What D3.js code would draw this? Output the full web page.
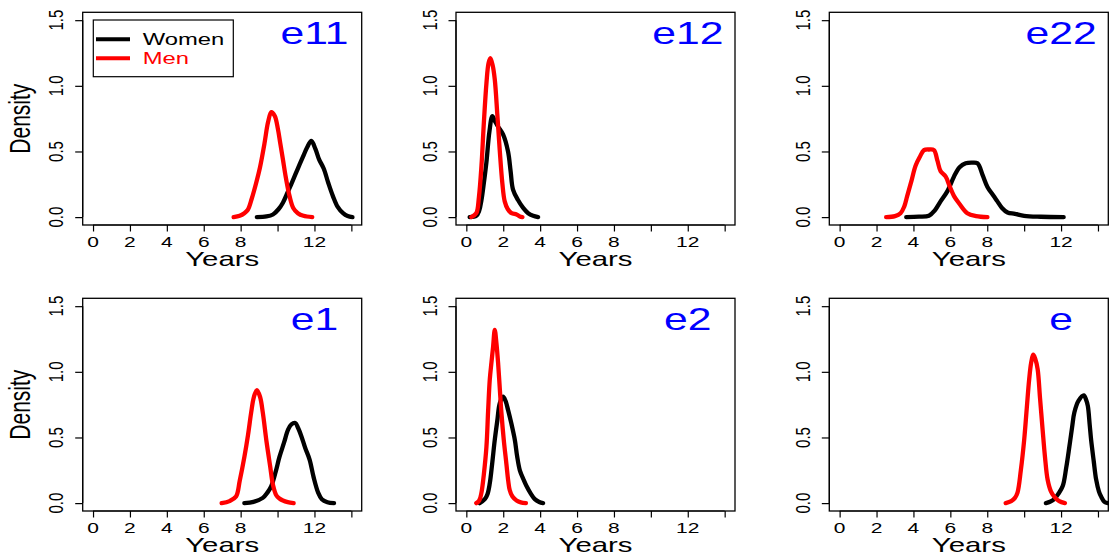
<!DOCTYPE html>
<html>
<head>
<meta charset="utf-8">
<script src="https://cdn.jsdelivr.net/npm/d3@7"></script>
<style>
  html, body { margin: 0; padding: 0; background: #fff; }
  svg { display: block; font-family: "Liberation Sans", Arial, sans-serif; }
</style>
</head>
<body>
<svg id="chart" width="1109" height="555"></svg>
<script>
// density curves, [years, density]
var e11Women = [[8.88,0],[9.4,0.005],[9.75,0.02],[10.05,0.06],[10.29,0.11],[10.55,0.19],[10.83,0.28],[11.1,0.37],[11.38,0.46],[11.6,0.53],[11.83,0.58],[12.05,0.52],[12.25,0.44],[12.5,0.37],[12.75,0.26],[13.0,0.16],[13.25,0.08],[13.55,0.03],[13.8,0.008],[14.06,0]];
var e11Men = [[7.62,0],[7.95,0.01],[8.2,0.03],[8.39,0.056],[8.6,0.14],[8.84,0.26],[9.05,0.38],[9.29,0.56],[9.48,0.72],[9.66,0.80],[9.85,0.77],[10.02,0.67],[10.15,0.56],[10.29,0.44],[10.45,0.3],[10.65,0.16],[10.85,0.07],[11.1,0.03],[11.4,0.01],[11.88,0]];

var e12Women = [[0.18,0],[0.54,0.01],[0.7,0.05],[0.82,0.13],[0.95,0.26],[1.09,0.42],[1.25,0.65],[1.41,0.77],[1.55,0.73],[1.72,0.69],[1.99,0.63],[2.26,0.50],[2.4,0.35],[2.53,0.21],[2.8,0.13],[3.08,0.07],[3.35,0.03],[3.62,0.01],[3.89,0]];
var e12Men = [[0.27,0],[0.54,0.03],[0.68,0.15],[0.82,0.39],[0.95,0.72],[1.09,1.02],[1.2,1.17],[1.30,1.21],[1.42,1.16],[1.54,1.05],[1.68,0.78],[1.81,0.51],[1.95,0.26],[2.08,0.12],[2.25,0.06],[2.45,0.03],[2.72,0.02],[2.9,0.005],[3.04,0]];

var e22Women = [[3.61,0],[4.3,0.003],[4.84,0.01],[5.15,0.05],[5.47,0.12],[5.85,0.2],[6.2,0.31],[6.5,0.38],[6.83,0.41],[7.15,0.415],[7.47,0.41],[7.75,0.32],[8.01,0.23],[8.3,0.17],[8.55,0.12],[8.8,0.07],[9.1,0.035],[9.5,0.025],[10.0,0.01],[10.9,0.003],[12.14,0]];
var e22Men = [[2.52,0],[3.0,0.008],[3.3,0.03],[3.5,0.08],[3.66,0.16],[3.9,0.28],[4.11,0.39],[4.35,0.46],[4.57,0.51],[4.85,0.515],[5.11,0.51],[5.3,0.43],[5.47,0.35],[5.74,0.31],[5.95,0.24],[6.2,0.16],[6.5,0.1],[6.92,0.03],[7.4,0.008],[8.01,0]];

var e1Women = [[8.2,0],[8.7,0.01],[9.2,0.04],[9.45,0.08],[9.66,0.13],[9.9,0.24],[10.1,0.35],[10.35,0.46],[10.57,0.56],[10.75,0.6],[10.96,0.61],[11.12,0.57],[11.29,0.51],[11.5,0.42],[11.74,0.33],[11.95,0.2],[12.2,0.08],[12.4,0.03],[12.7,0.007],[13.06,0]];
var e1Men = [[6.97,0],[7.4,0.015],[7.75,0.05],[7.95,0.17],[8.2,0.35],[8.4,0.52],[8.57,0.69],[8.72,0.81],[8.88,0.86],[9.05,0.81],[9.2,0.69],[9.4,0.47],[9.6,0.28],[9.75,0.14],[9.93,0.06],[10.1,0.035],[10.29,0.02],[10.55,0.008],[10.87,0]];

var e2Women = [[0.72,0],[1.0,0.03],[1.15,0.07],[1.27,0.15],[1.4,0.3],[1.54,0.48],[1.68,0.63],[1.81,0.76],[1.99,0.81],[2.12,0.78],[2.26,0.71],[2.45,0.6],[2.63,0.48],[2.75,0.36],[2.9,0.25],[3.1,0.18],[3.26,0.13],[3.5,0.07],[3.71,0.03],[3.95,0.008],[4.16,0]];
var e2Men = [[0.54,0],[0.7,0.02],[0.82,0.08],[0.95,0.22],[1.09,0.43],[1.18,0.7],[1.27,0.94],[1.36,1.07],[1.45,1.19],[1.54,1.32],[1.63,1.22],[1.72,1.07],[1.81,0.88],[1.90,0.69],[2.03,0.48],[2.17,0.30],[2.27,0.17],[2.35,0.10],[2.5,0.05],[2.72,0.02],[2.95,0.006],[3.23,0]];

var eWomen = [[11.18,0],[11.4,0.01],[11.63,0.03],[11.85,0.07],[12.09,0.13],[12.28,0.27],[12.45,0.43],[12.6,0.58],[12.72,0.69],[12.95,0.78],[13.23,0.82],[13.35,0.79],[13.45,0.74],[13.55,0.6],[13.63,0.48],[13.77,0.32],[13.9,0.18],[14.05,0.09],[14.17,0.05],[14.35,0.01],[14.54,0]];
var eMen = [[9.0,0],[9.3,0.015],[9.5,0.04],[9.64,0.08],[9.82,0.25],[10.0,0.48],[10.14,0.72],[10.27,0.94],[10.38,1.07],[10.49,1.13],[10.6,1.1],[10.73,1.02],[10.86,0.8],[11.0,0.56],[11.13,0.35],[11.27,0.18],[11.45,0.09],[11.63,0.05],[11.9,0.015],[12.21,0]];

var panelNames = ["e11", "e12", "e22", "e1", "e2", "e"];
var womenSeries = [e11Women, e12Women, e22Women, e1Women, e2Women, eWomen];
var menSeries = [e11Men, e12Men, e22Men, e1Men, e2Men, eMen];
var xTicks = [0, 2, 4, 6, 8, 10, 12, 14];
var xTickLabels = ["0", "2", "4", "6", "8", "", "12", ""];
var yTicks = [0, 0.5, 1.0, 1.5];
var legendLabels = ["Women", "Men"];
var seriesColors = ["#000000", "#ff0000"];

// the picture is stretched sideways, so text gets squashed the same way
var sx = 1.4;
var colLeft = [82.7, 456, 829.3],
    rowTop = [12.3, 298.3],
    boxW = 279,
    boxH = 212.7;

var svg = d3.select("#chart");

function stretchedText(g, x, y, str, size, anchor, rot, fill) {
    var t = g.append("text")
        .attr("transform", "translate(" + x + "," + y + ") scale(" + sx + ",1)" + (rot ? " rotate(" + rot + ")" : ""))
        .attr("font-size", size)
        .attr("text-anchor", anchor)
        .attr("fill", fill || "#000")
        .text(str);
    return t;
}

function drawPanel(i) {
    var col = i % 3, row = Math.floor(i / 3);
    var left = colLeft[col], top = rowTop[row];
    var g = svg.append("g");

    var x = d3.scaleLinear().domain([-0.56, 14.56]).range([left, left + boxW]);
    var y = d3.scaleLinear().domain([-0.06, 1.56]).range([top + boxH, top]);

    // box
    g.append("rect")
        .attr("x", left).attr("y", top)
        .attr("width", boxW).attr("height", boxH)
        .attr("fill", "none").attr("stroke", "#000").attr("stroke-width", 1.3);

    // x axis
    var xa = g.append("g").attr("transform", "translate(0," + (top + boxH) + ")")
        .call(d3.axisBottom(x).tickValues(xTicks).tickSize(6.5).tickFormat(""));
    xa.select(".domain").attr("d", "M" + x(0) + ",0H" + x(14)).attr("stroke-width", 1.2);
    xa.selectAll(".tick line").attr("stroke-width", 1.2);
    xTicks.forEach(function(v, k) {
        if (xTickLabels[k]) stretchedText(g, x(v), top + boxH + 21.7, xTickLabels[k], 15, "middle");
    });

    // y axis
    var ya = g.append("g").attr("transform", "translate(" + left + ",0)")
        .call(d3.axisLeft(y).tickValues(yTicks).tickSize(7.5).tickFormat(""));
    ya.select(".domain").attr("d", "M0," + y(0) + "V" + y(1.5)).attr("stroke-width", 1.2);
    ya.selectAll(".tick line").attr("stroke-width", 1.2);
    yTicks.forEach(function(v) {
        stretchedText(g, left - 19.4 / 1, y(v), d3.format(".1f")(v), 15, "middle", -90);
    });

    stretchedText(g, left + boxW / 2, top + boxH + 40.5, "Years", 21, "middle");
    if (col == 0) {
        stretchedText(g, 22.5 + 7, top + boxH / 2, "Density", 21, "middle", -90);
    }

    // curves
    var line = d3.line()
        .x(function(d) { return x(d[0]); })
        .y(function(d) { return y(d[1]); })
        .curve(d3.curveCatmullRom);
    [womenSeries[i], menSeries[i]].forEach(function(s, k) {
        g.append("path").datum(s)
            .attr("d", line)
            .attr("fill", "none")
            .attr("stroke", seriesColors[k])
            .attr("stroke-width", 4.3)
            .attr("stroke-linejoin", "round")
            .attr("stroke-linecap", "round");
    });

    // panel label
    stretchedText(g, x(12), y(1.4) + 11, panelNames[i], 30.5, "middle", 0, "#0000ff");

    if (i == 0) {
        var lg = g.append("g");
        lg.append("rect")
            .attr("x", 93.3).attr("y", 20)
            .attr("width", 140).attr("height", 56.7)
            .attr("fill", "#fff").attr("stroke", "#000").attr("stroke-width", 1.2);
        legendLabels.forEach(function(lab, k) {
            var yy = 39.3 + k * 19;
            lg.append("line")
                .attr("x1", 96).attr("x2", 130)
                .attr("y1", yy).attr("y2", yy)
                .attr("stroke", seriesColors[k]).attr("stroke-width", 4);
            stretchedText(lg, 142.7, yy + 6, lab, 17, "start", 0, seriesColors[k]);
        });
    }
}

for (var i = 0; i < 6; i++) drawPanel(i);
</script>
</body>
</html>
